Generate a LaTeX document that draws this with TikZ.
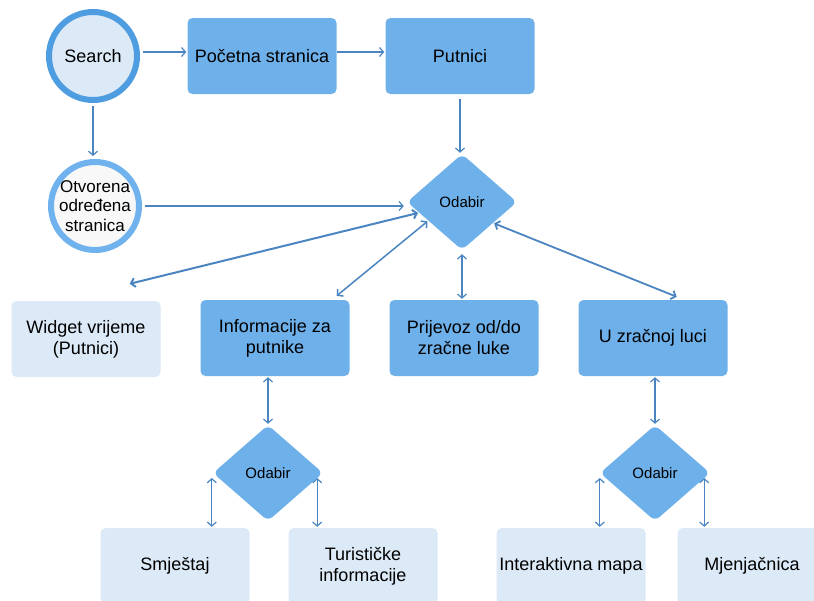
\documentclass[tikz,border=0pt]{standalone}
\usepackage{fontspec}
\setmainfont{Liberation Sans}
\usepackage{tikz}
\usetikzlibrary{arrows.meta,shapes.geometric}

\definecolor{boxdark}{HTML}{6EB0EA}
\definecolor{boxlight}{HTML}{DCE9F6}
\definecolor{arrowc}{HTML}{4A85C1}
\definecolor{searchring}{HTML}{4E9DE0}
\definecolor{otvring}{HTML}{6FB2EE}
\definecolor{otvfill}{HTML}{F8F8F8}

\begin{document}
\begin{tikzpicture}[> = {Straight Barb[length=4pt,width=9pt]}, % arrow head style
	shorten > = 1pt, % don't touch arrow head to node
	x=1pt, y=-1pt, % pixel grid, y going down
	font=\fontsize{18}{21}\selectfont,
	dark/.style={rectangle,rounded corners=5pt,fill=boxdark,minimum width=149pt,minimum height=76pt,align=center,inner sep=2pt},
	light/.style={dark,fill=boxlight},
	choice/.style={diamond,fill=boxdark,rounded corners=6pt,minimum width=110pt,minimum height=96pt,inner sep=0pt,font=\fontsize{15}{18}\selectfont},
	ring/.style={circle,line width=6pt,minimum size=88pt,inner sep=0pt,align=center},
	link/.style={draw=arrowc,line width=1.2pt}]
	\useasboundingbox (0,0) rectangle (814,600);

	\node[ring,draw=searchring,fill=boxlight] (search) at (93,56) {Search};
	\node[ring,draw=otvring,fill=otvfill,font=\fontsize{17}{19.5}\selectfont] (otvorena) at (95,206) {Otvorena\\određena\\stranica};
	\node[dark] (pocetna) at (262,56) {Početna stranica};
	\node[dark] (putnici) at (460,56) {Putnici};
	\node[choice] (odabir) at (462,202) {Odabir};

	\node[light] (widget) at (86,339) {Widget vrijeme\\(Putnici)};
	\node[dark] (info) at (275,338) {Informacije za\\putnike};
	\node[dark] (prijevoz) at (464,338) {Prijevoz od/do\\zračne luke};
	\node[dark] (uzl) at (653,338) {U zračnoj luci};

	\node[choice] (odabirL) at (268,473) {Odabir};
	\node[choice] (odabirR) at (655,473) {Odabir};
	\node[light] (smjestaj) at (175,566) {Smještaj};
	\node[light] (turisticke) at (363,566) {Turističke\\informacije};
	\node[light] (interaktivna) at (571,566) {Interaktivna mapa};
	\node[light] (mjenjacnica) at (752,566) {Mjenjačnica};

	\coordinate (sr) at ([yshift=4pt]search.east);
	\coordinate (pr) at ([yshift=4pt]pocetna.east);
	\coordinate (wl) at ([xshift=-31pt,yshift=17pt]widget.north east);
	\coordinate (il) at ([xshift=-13pt,yshift=4pt]info.north east);
	\coordinate (ul) at ([xshift=-51pt,yshift=3pt]uzl.north east);
	\coordinate (sl) at ([xshift=-1pt,yshift=-5pt]odabirL.west);
	\coordinate (tl) at ([xshift=-6pt,yshift=-5pt]odabirL.east);
	\coordinate (ml) at ([xshift=0pt,yshift=-5pt]odabirR.west);
	\coordinate (nl) at ([xshift=-6pt,yshift=-5pt]odabirR.east);

	\draw[link,->,shorten <=3pt] (sr) -- (sr -| pocetna.west);
	\draw[link,->] (pr) -- (pr -| putnici.west);
	\draw[link,->,shorten <=3pt,shorten >=3pt] (search.south) -- (search.south |- otvorena.north);
	\draw[link,->,shorten <=5pt] (putnici.south) -- (putnici.south |- odabir.north);
	\draw[link,->,shorten <=3pt,shorten >=3pt] (otvorena.east) -- (otvorena.east -| odabir.west);

	\draw[link,<->,line width=2pt] (wl) -- (odabir.194);
	\draw[link,<->,line width=1.5pt] (il) -- (odabir.209);
	\draw[link,<->,shorten <=4pt] (odabir.south) -- (odabir.south |- prijevoz.north);
	\draw[link,<->,line width=1.8pt] (ul) -- (odabir.326);

	\draw[link,<->,shorten <=1pt] (odabirL.north |- info.south) -- (odabirL.north);
	\draw[link,<->,shorten <=1pt] (odabirR.north |- uzl.south) -- (odabirR.north);
	\draw[link,<->] (sl) -- (sl |- smjestaj.north);
	\draw[link,<->] (tl) -- (tl |- turisticke.north);
	\draw[link,<->] (ml) -- (ml |- interaktivna.north);
	\draw[link,<->] (nl) -- (nl |- mjenjacnica.north);

\end{tikzpicture}
\end{document}
